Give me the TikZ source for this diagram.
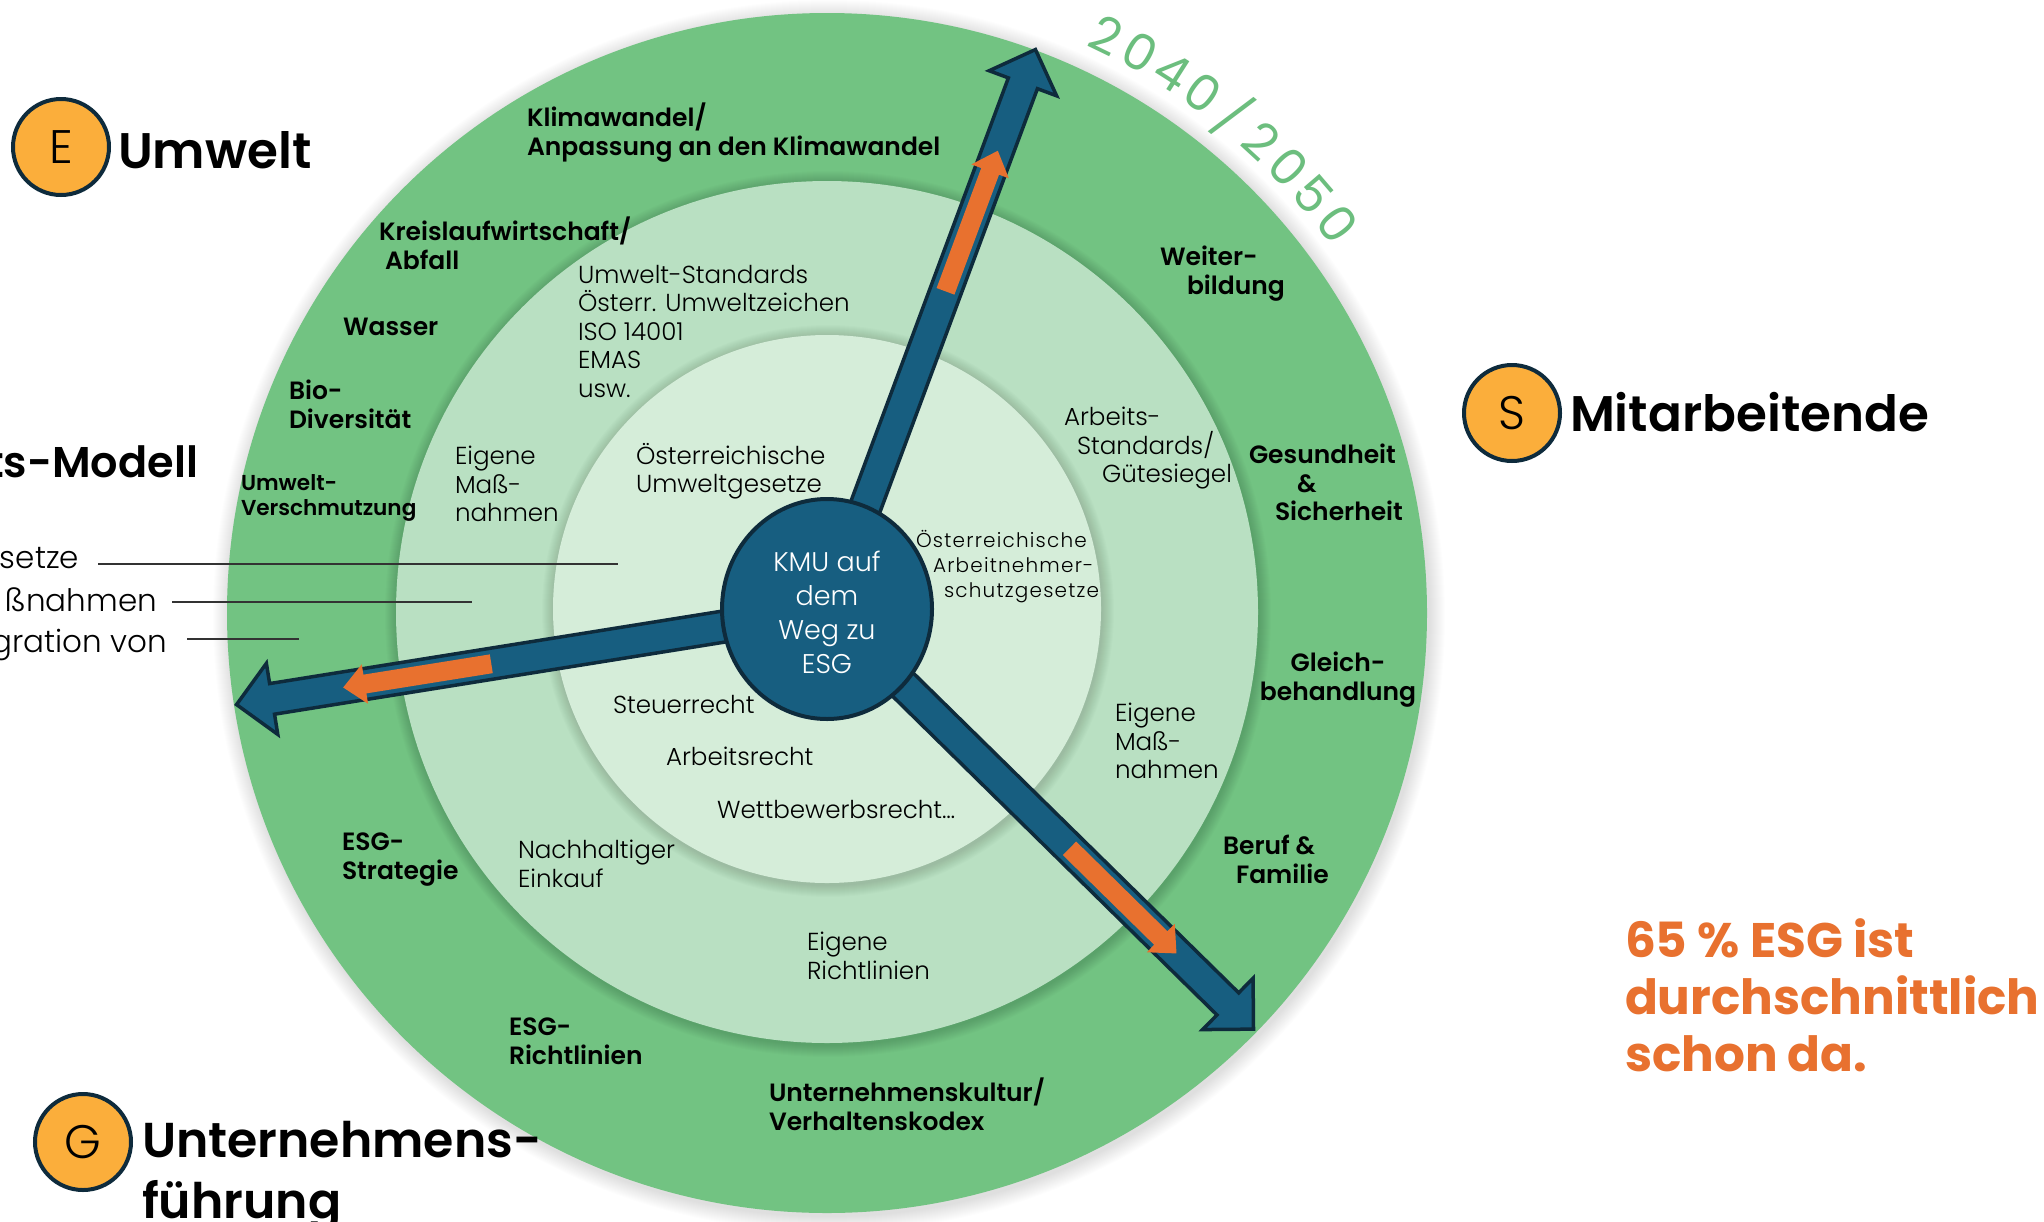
\documentclass[tikz,border=0pt]{standalone}
\usepackage{fontspec}
\setmainfont{Poppins}
\newfontfamily\lightfam{Poppins Light}
\newfontfamily\semifam{Poppins SemiBold}
\usetikzlibrary{calc}
\definecolor{ringA}{HTML}{72C382}
\definecolor{ringB}{HTML}{B9E0C2}
\definecolor{ringC}{HTML}{D5EDD9}
\definecolor{esgblue}{HTML}{175E80}
\definecolor{navy}{HTML}{0E2B3C}
\definecolor{esgorange}{HTML}{E8712F}
\definecolor{badgeorange}{HTML}{FBAE3B}
\definecolor{yeargreen}{HTML}{6CBE7E}
\newcommand\fsz[2]{\fontsize{#1}{#2}\selectfont}
\tikzset{
  lbl/.style={inner sep=0pt, outer sep=0pt, anchor=north west, align=left, text=black},
  boldlbl/.style={lbl, font=\semifam\fsz{25}{28.5}},
  lightlbl/.style={lbl, font=\lightfam\fsz{24.6}{28.5}},
  biglbl/.style={inner sep=0pt, outer sep=0pt, text=black, font=\semifam\fsz{50}{56}},
  sidelbl/.style={inner sep=0pt, outer sep=0pt, anchor=base east, text=black, font=\lightfam\fsz{31}{36}},
  leader/.style={draw=black!80, line width=1.4pt},
  badge/.style={circle, fill=badgeorange, draw=navy, line width=4pt, minimum size=96pt, inner sep=0pt, font=\lightfam\fsz{47}{50}, text=black},
  yearch/.style={inner sep=0pt, text=yeargreen, font=\fsz{50}{50}},
  esgarrow/.pic={
    \draw[fill=esgblue, draw=navy, line width=3.5pt, line join=miter]
      (0,-15.5) -- (562,-15.5) -- (562,-36) -- (598,0) -- (562,36) -- (562,15.5) -- (0,15.5) -- cycle;
    \fill[esgorange] (340,-9.5) -- (468,-9.5) -- (468,-20) -- (490,0) -- (468,20) -- (468,9.5) -- (340,9.5) -- cycle;
  }
}
\begin{document}
\begin{tikzpicture}[x=1pt,y=-1pt]
\useasboundingbox (0,0) rectangle (2044,1221);
\fill[white] (0,0) rectangle (2044,1221);
% rings with soft shadows
\foreach \k in {1,...,16} \fill[black, opacity=0.008] (829,616) circle[radius=600+\k];
\fill[ringA] (827,613) circle[radius=600];
\foreach \k in {1,...,12} \fill[black, opacity=0.012] (828,614) circle[radius=431+\k];
\fill[ringB] (827,612) circle[radius=431];
\foreach \k in {1,...,12} \fill[black, opacity=0.012] (828,611) circle[radius=274+\k];
\fill[ringC] (827,609) circle[radius=274];

% leader lines from cut-off left texts
\node[sidelbl] (t1) at (79,568) {setze};
\node[sidelbl] (t2) at (157,611) {ßnahmen};
\node[sidelbl] (t3) at (167,652) {gration von};
\coordinate (l1a) at (98,564);  \coordinate (l1b) at (618,564);
\coordinate (l2a) at (172,602); \coordinate (l2b) at (472,602);
\coordinate (l3a) at (187,639); \coordinate (l3b) at (299,639);
\draw[leader] (l1a) -- (l1b);
\draw[leader] (l2a) -- (l2b);
\draw[leader] (l3a) -- (l3b);

% outer ring labels
\node[boldlbl] (k1) at (527,103) {Klimawandel/\\Anpassung an den Klimawandel};
\node[boldlbl] (k2) at (379,217) {Kreislaufwirtschaft/\\\hspace*{6pt}Abfall};
\node[boldlbl] (k3) at (343,318) {Wasser};
\node[boldlbl] (k4) at (289,380) {Bio-\\Diversität};
\node[boldlbl, font=\semifam\fsz{21.6}{25}] (k5) at (241,475) {Umwelt-\\Verschmutzung};
\node[boldlbl] (k6) at (1160,246) {Weiter-\\\hspace*{27pt}bildung};
\node[boldlbl] (k7) at (1249,444) {Gesundheit\\\hspace*{48pt}\&\\\hspace*{26pt}Sicherheit};
\node[boldlbl, align=center, anchor=north] (k8) at (1338,652) {Gleich-\\behandlung};
\node[boldlbl] (k9) at (1223,835) {Beruf \&\\\hspace*{13pt}Familie};
\node[boldlbl] (k10) at (769,1078) {Unternehmenskultur/\\Verhaltenskodex};
\node[boldlbl] (k11) at (509,1018) {ESG-\\Richtlinien};
\node[boldlbl] (k12) at (342,833) {ESG-\\Strategie};

% middle ring labels
\node[lightlbl] (m1) at (578,265) {Umwelt-Standards\\Österr. Umweltzeichen\\ISO 14001\\EMAS\\usw.};
\node[lightlbl] (m2) at (455,446) {Eigene\\Maß-\\nahmen};
\node[lightlbl] (m3) at (1064,407) {Arbeits-\\\hspace*{13pt}Standards/\\\hspace*{38pt}Gütesiegel};
\node[lightlbl] (m4) at (1115,703) {Eigene\\Maß-\\nahmen};
\node[lightlbl] (m5) at (518,840) {Nachhaltiger\\Einkauf};
\node[lightlbl] (m6) at (807,932) {Eigene\\Richtlinien};

% inner circle labels
\node[lightlbl] (i1) at (636,443) {Österreichische\\Umweltgesetze};
\node[lightlbl, font=\lightfam\addfontfeature{LetterSpace=6}\fsz{20}{25}] (i2) at (916,530) {Österreichische\\\hspace*{17pt}Arbeitnehmer-\\\hspace*{28pt}schutzgesetze};
\node[lightlbl] (i3) at (613,695) {Steuerrecht};
\node[lightlbl] (i4) at (666,747) {Arbeitsrecht};
\node[lightlbl] (i5) at (717,800) {Wettbewerbsrecht…};

% year along the arc
\foreach \ch [count=\i from 0] in {2,0,4,0,/,2,0,5,0} {
  \pgfmathsetmacro\ang{64.2-3.36*\i}
  \node[yearch, rotate=\ang-90] (yr\i) at ({827+642*cos(\ang)},{613-642*sin(\ang)}) {\ch};
}

% arrows
\pic[rotate=69.6] at (827,610) {esgarrow};
\pic[rotate=189.1] at (827,610) {esgarrow};
\pic[rotate=-44.5] at (827,610) {esgarrow};

% center
\fill[esgblue] (827,609) ellipse[x radius=105, y radius=110];
\draw[navy, line width=4pt] (827,609) ellipse[x radius=105, y radius=110];
\node[inner sep=0pt, align=center, text=white, font=\lightfam\fsz{27}{34}] (kmu) at (827,612) {KMU auf\\dem\\Weg zu\\ESG};

% badges and headings
\node[badge] (bE) at (61,147) {E};
\node[biglbl, anchor=base west] (hE) at (118,168) {Umwelt};
\node[badge] (bS) at (1512,413) {S};
\node[biglbl, anchor=base west] (hS) at (1570,431) {Mitarbeitende};
\node[badge] (bG) at (83,1142) {G};
\node[biglbl, anchor=north west, align=left, font=\semifam\fsz{49}{61.5}] (hG) at (142,1121) {Unternehmens-\\führung};
\node[biglbl, anchor=base east, font=\semifam\fsz{43}{50}] (hM) at (198,477) {ts-Modell};
\node[biglbl, anchor=north west, align=left, text=esgorange, font=\bfseries\fsz{48.5}{57}] (pct) at (1625,919) {65 \% ESG ist\\durchschnittlich\\schon da.};
\end{tikzpicture}
\end{document}
